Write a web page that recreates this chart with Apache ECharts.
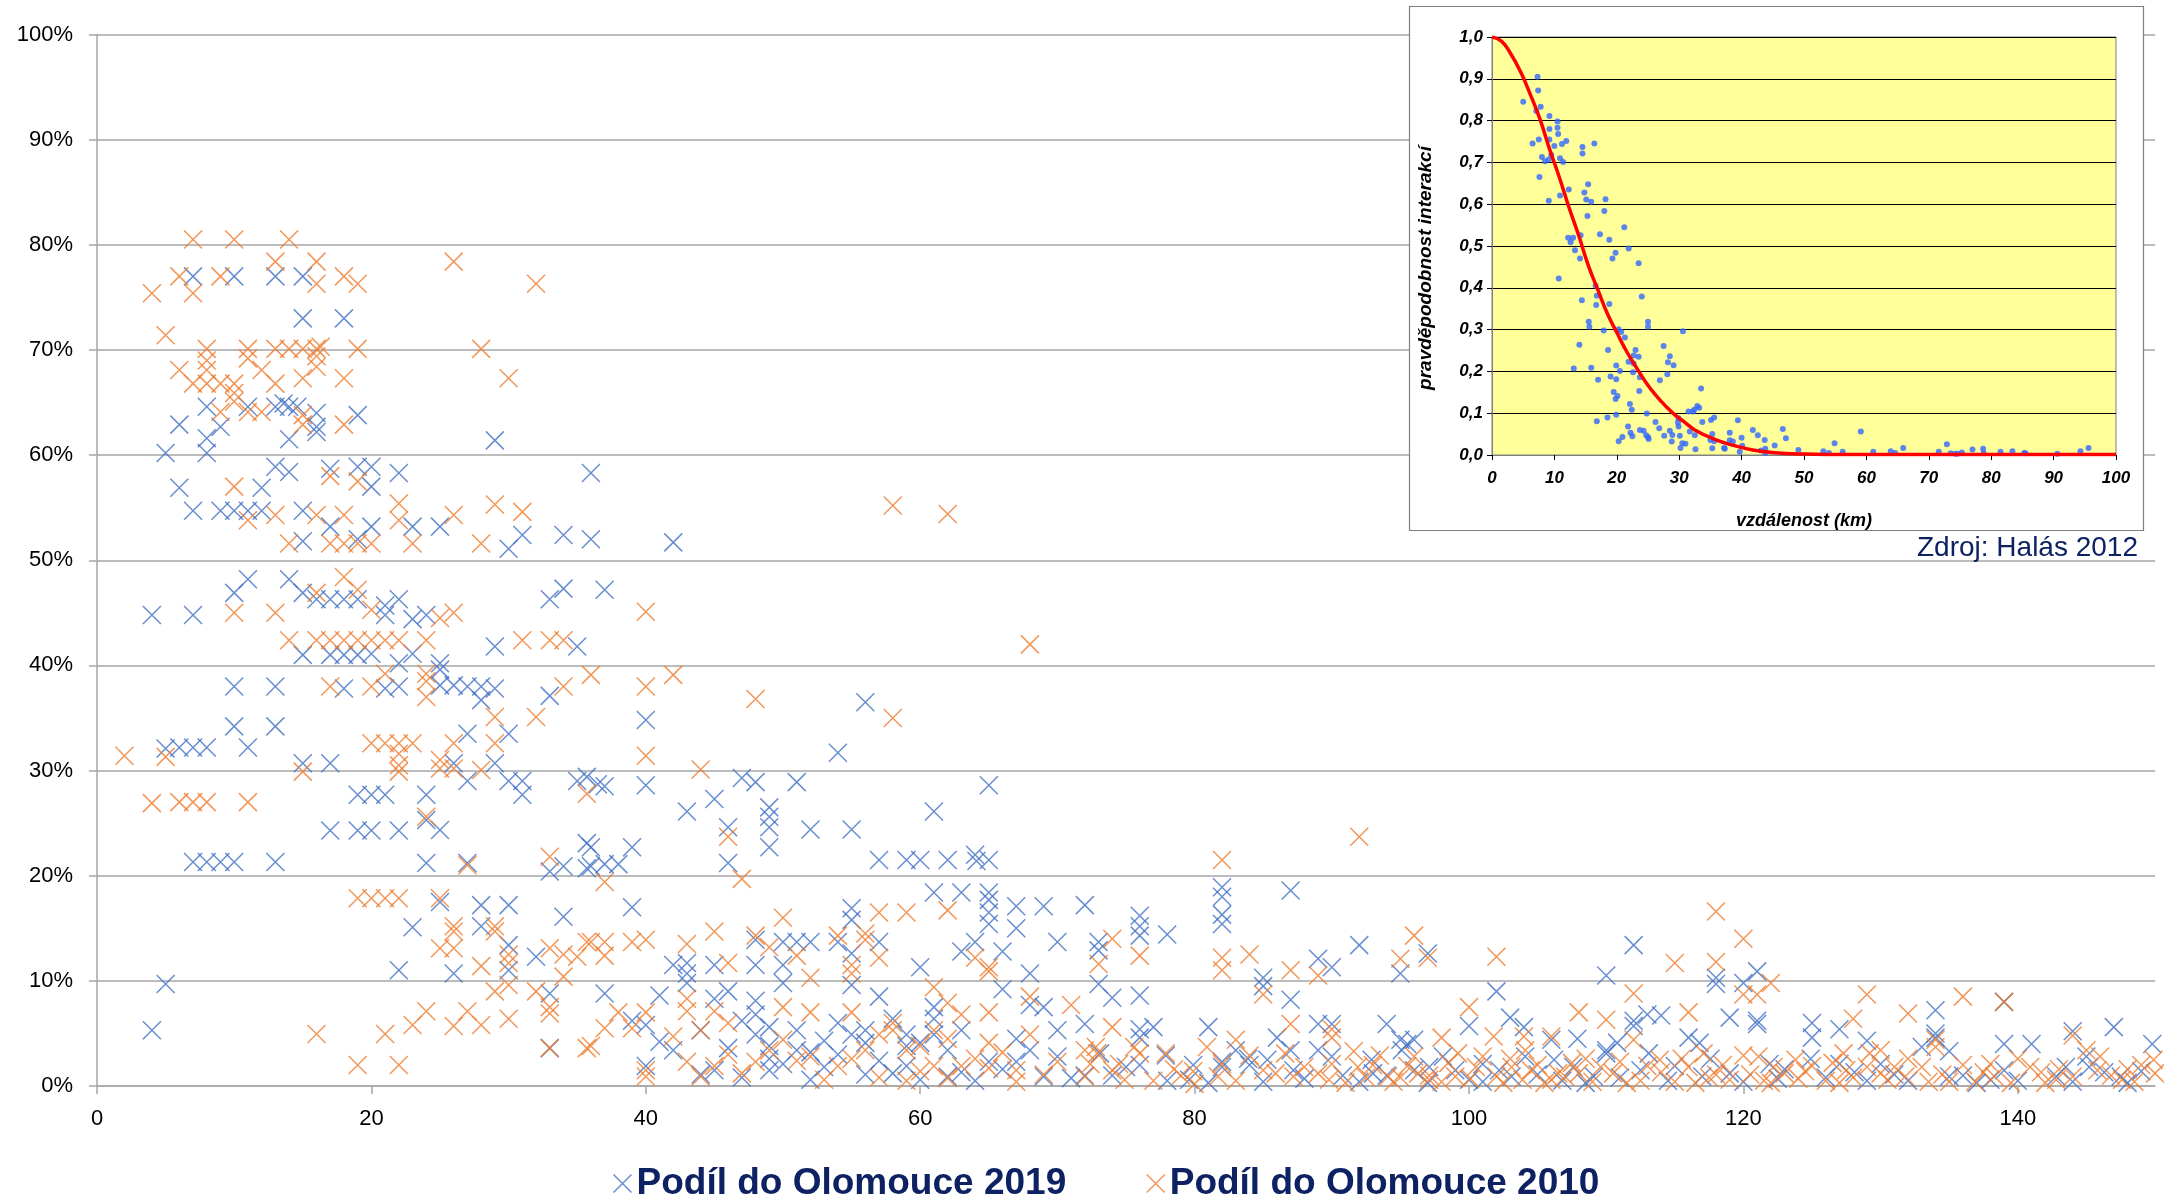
<!DOCTYPE html>
<html>
<head>
<meta charset="utf-8">
<script src="https://cdn.jsdelivr.net/npm/echarts@6/dist/echarts.min.js"></script>
<style>
  html, body { margin: 0; padding: 0; background: #fff; }
  #chart { width: 2164px; height: 1202px; }
</style>
</head>
<body>
<div id="chart"></div>
<script>
// podíl do Olomouce 2019 [vzdálenost km, %]
const share2019 = [
  [7,77],[10,77],[13,77],[15,77],[15,73],[18,73],
  [8,64.6],[11,64.6],[13,64.6],[13.6,64.9],[14,64.6],[14.6,64.6],[16,64],[19,63.8],
  [6,62.9],[9,62.7],[16,62.7],[16,62.2],[8,61.6],[14,61.5],[29,61.4],
  [5,60.2],[8,60.2],[13,58.9],[14,58.4],[17,58.7],[19,58.9],[20,58.9],[20,57],[22,58.3],[36,58.3],
  [6,56.9],[12,56.9],[7,54.7],[9,54.7],[10,54.7],[11,54.7],[12,54.7],[15,54.7],
  [17,53.2],[20,53.2],[23,53.2],[25,53.2],[31,52.4],[34,52.4],[36,52],[15,51.8],[19,52],[30,51.1],
  [11,48.2],[14,48.2],[10,46.9],[15,46.9],[16,46.3],[17,46.3],[18,46.3],[19,46.3],[21,45.7],[22,46.3],
  [21,44.8],[23,44.4],[24,44.8],[4,44.8],[7,44.8],[33,46.3],[34,47.3],[35,41.8],[29,41.8],
  [15,41],[17,41],[18,41],[19,41],[20,41.1],[22,40.2],[23,41.1],[25,40.2],[25,39.6],[25,38.1],
  [10,38],[13,38],[18,37.8],[21,37.8],[22,38],[26,38.1],[27,38],[28,38],[29,37.8],[28,36.7],[33,37.1],
  [10,34.2],[13,34.2],[11,32.2],[5,32.1],[6,32.2],[7,32.2],[8,32.2],
  [27,33.5],[30,33.5],[15,30.7],[17,30.7],[26,30.7],[27,29],[29,30.7],[30,29],[31,29],[31,27.7],[35,29],[35.7,29.4],
  [19,27.7],[20,27.7],[21,27.7],[24,27.7],[24,25.3],[25,24.35],[17,24.3],[19,24.3],[20,24.3],[22,24.3],
  [7,21.3],[8,21.3],[9,21.3],[10,21.3],[13,21.3],[24,21.2],[27,21.2],[33,20.4],[34,20.9],[35.7,23.1],[35.7,20.7],
  [25,17.5],[28,17.2],[30,17.2],[23,15.1],[28,15.2],[34,16.1],[30,13.4],[32,12.3],[30,11],[22,11],[26,10.7],
  [33,8.8],[5,9.7],[4,5.3],[33,3.6],
  [42,51.7],[37,47.2],[56,36.5],[40,34.8],[54,31.7],[36.5,28.7],[37,28.5],[40,28.6],[47,29.3],[48,28.9],[51,28.9],
  [65,28.6],[43,26.1],[45,27.3],[49,26.5],[49,25.6],[49,24.6],[49,22.7],[46,24.6],[52,24.4],[55,24.4],[61,26.1],
  [36,22.7],[39,22.7],[36,20.9],[37,21.1],[38,21.1],[46,21.2],[57,21.5],[59,21.5],[60,21.5],[62,21.5],[64,22],
  [64.1,21.4],[65,21.5],[61,18.4],[63,18.4],[65,18.4],[65,17.7],[65,16.5],[65,15.4],[67,17.1],[69,17.1],[67,15],
  [39,17],[55,16.9],[55,15.8],[48,13.9],[50,13.7],[51,13.7],[52,13.7],[54,13.7],[57,13.7],[55,12.6],[55,9.6],
  [64,13.7],[66,12.8],[63,12.8],[68,10.7],[70,13.7],[60,11.3],[66,9.2],[68,7.7],[69,7.5],
  [42,11.5],[43,11.7],[43,10.7],[45,11.5],[48,11.5],[50,11.5],[50,9.8],[43,9.8],[37,8.8],[41,8.6],[46,9],[45,8.3],
  [48,8.1],[48,6.8],[57,8.5],[39,6.2],[40,5.8],[42,3.4],[44,1.1],[40,1.9],[48,4.9],[49,5.6],[49,3.8],[49,2.6],
  [49,1.5],[51,5.3],[51,3.4],[52,3.2],[54,6],[54,3],[55,4.9],[56,5.3],[56,4.1],[56,1.1],[58,6.4],[59,4.9],[59,3.8],
  [59,1.9],[60,4.1],[61,7.5],[61,6.4],[61,4.9],[62,0.9],[62,3.4],[63,5.3],[65,2.3],[67,4.5],[67,2.3],[68,3.4],
  [70,5.3],[71,0.75],[45,1.5],[47,0.8],[53,1.8],[57,2.4],[58,1.2],[60,0.6],[63,1.3],[64,0.5],[66,1.6],[69,0.9],
  [70,2.8],[46,3.6],[41,4.2],[44,5.3],[47,6.2],[53,4.3],[50,2.1],[52,0.6],
  [82,18.9],[82,18],[82,16.3],[82,15.4],[87,18.6],[72,17.2],[76,16.2],[76,15.2],[76,14.3],[78,14.4],[73,13.7],
  [73,12.9],[73,9.7],[89,12.1],[90,11.3],[92,13.4],[97,12.6],[95,10.7],[85,10.3],[85,9.5],[87,8.2],[102,9],
  [110,10.5],[74,8.4],[76,8.6],[72,5.9],[76,5.4],[77,5.6],[76,4.6],[81,5.6],[89,5.9],[90,5.9],[94,5.9],[100,5.7],
  [103,6.5],[86,4.6],[95.5,4],[96,4.4],[95,4.4],
  [73.1,3.1],[72,1],[74,1],[75,1.8],[76,2],[77.9,2.9],[79.9,2],[79.6,0.6],[82,2.3],[82,1.8],[83,3.4],[83.9,2.6],
  [84,2],[85.3,2.5],[87,3.4],[87.2,1.5],[89,3.4],[90,2.8],[90.8,1],[92.9,2.5],[94,1],[95.1,3.4],[96,1.5],[97.1,1.8],
  [98.1,2.8],[99,1.5],[101,2.1],[102.2,1.5],[103.1,0.9],[104,5.6],[104.1,2.8],[106,4.4],[106.2,2.5],[107.9,4.5],
  [107.6,1.8],[109.1,0.9],[110,3.1],[78,0.5],[81,0.3],[85,0.4],[88,0.7],[92,0.4],[93,1.2],[97,0.3],[100,0.6],
  [101,0.4],[105,1.1],[106.8,0.5],[108.5,0.3],
  [112,13.4],[118,10.3],[118,9.7],[120,9.8],[121,10.9],[112,6.2],[112,5.7],[113,6.8],[114,6.7],[116,4.6],[119,6.5],
  [121,6.2],[121,5.9],[127,5.4],[125,6],[125,4.6],[134,7.2],[139,8],[134,4.6],[135,3.3],[129,4.3],[139,4],[141,4],
  [144,5.2],[147,5.6],[149.8,4],[134,5],[110.8,4.1],[110,3.4],[113.1,3.1],[116.8,4.1],[117.6,2.6],[121.9,2.1],
  [124.9,2.6],[127,2.1],[128.1,1.3],[130,2.1],[133,3.7],[135,0.9],[138,0.6],[139,1.5],[142.8,0.9],[145.2,1.8],
  [146.3,1.3],[145,2.8],[111,0.8],[112.5,1.5],[114.5,0.5],[115,1.9],[117,0.9],[119,1.2],[120,0.4],[122.5,0.7],
  [123,1.6],[126,0.8],[129,0.5],[131,1.1],[132,0.5],[136,1],[137,0.3],[140,0.5],[143.5,1.8],[144,0.4],[147.5,0.9],
  [148,0.3],[149,1.4]
]

// podíl do Olomouce 2010
const share2010 = [
  [7,80.5],[10,80.5],[14,80.5],[13,78.4],[16,78.4],[26,78.4],[6,77],[9,77],[18,77],[16,76.3],[19,76.3],[32,76.3],
  [4,75.4],[7,75.4],[5,71.4],[8,70.1],[11,70.1],[13,70.1],[14,70.1],[15,70.1],[16,70.1],[16.3,70.3],[19,70.1],
  [28,70.1],[8,69],[11,69.2],[16,69.4],[6,68.1],[8,68.1],[12,68.1],[16,68.4],[7,66.8],[8,66.8],[9,66.8],[10,66.8],
  [13,66.8],[15,67.3],[18,67.3],[30,67.3],[10,65.9],[9,64.1],[10,65.1],[11,64.1],[12,64.1],[15,63.8],[15,62.9],
  [18,62.9],[10,57],[11,53.8],[13,54.3],[16,54.3],[18,54.3],[22,55.4],[22,53.8],[26,54.3],[29,55.3],[31,54.6],
  [14,51.6],[17,51.6],[18,51.6],[19,51.6],[20,51.6],[23,51.6],[28,51.6],[19,57.5],[17,58],
  [26,45],[20,45.3],[25,44.5],[18,48.4],[19,47.2],[16,46.9],[10,45],[13,45],
  [14,42.4],[16,42.4],[17,42.4],[18,42.4],[19,42.4],[20,42.4],[21,42.4],[22,42.4],[24,42.4],[31,42.4],[33,42.4],[34,42.4],
  [21,39.2],[24,39.2],[24,38.5],[24,37],[17,38],[20,38],[34,38],[36,39.1],[29,35.1],[32,35.1],
  [2,31.4],[5,31.3],[20,32.6],[21,32.6],[22,32.6],[23,32.6],[26,32.6],[29,32.6],[22,31.6],[22,30.5],[22,29.9],
  [15,29.9],[25,31],[25,30.2],[26,30.2],[28,30.05],[35.7,27.8],[4,26.9],[6,27],[7,27],[8,27],[11,27],[24,25.6],
  [27,21],[33,21.8],[19,17.85],[20,17.85],[21,17.85],[22,17.85],[25,17.85],[26,15.2],[26,14.7],[29,15.2],[29,14.7],
  [25,13.1],[26,13.1],[30,12.5],[33,13.1],[34,12.5],[35,12.3],[35.7,13.7],[28,11.4],[30,11.7],[34,10.4],
  [29,9],[30,9.6],[32,9],[33,7.5],[33,6.9],[16,4.95],[21,4.95],[23,5.8],[24,7.1],[26,5.7],[27,7.1],[28,5.8],
  [30,6.4],[19,2],[22,2],[33,3.6],[35.7,3.6],
  [58,55.2],[62,54.4],[40,45.1],[68,42],[40,38],[42,39.1],[48,36.8],[58,35],[40,31.4],[44,30.1],[46,23.7],
  [37,19.4],[47,19.7],[62,16.7],[57,16.5],[59,16.5],[50,16],[45,14.7],[36,13.7],[37,13.7],[37,12.4],[39,13.7],
  [40,13.9],[43,13.5],[48,14.3],[49,13.2],[51,12.4],[54,14.3],[56,14.5],[56,13.9],[57,12.2],[55,11.5],[55,10.7],
  [64,12.2],[65,11.3],[65,10.9],[46,11.7],[52,10.3],[61,9.4],[62,7.9],[68,8.5],[71,7.7],[65,7],
  [43,8.3],[43,7.1],[45,7.1],[46,6],[50,7.5],[52,7],[55,7],[38,7],[39,5.5],[40,7],[37,5.5],[36,3.8],[42,4.7],
  [44,5.3],[46,3],[44,0.9],[43,2.3],[40,1.5],[40,0.9],[48,2.3],[49,3.4],[51,2.4],[52,2.8],[55,2.6],[56,3.4],
  [57,4.9],[58,6],[58,5.3],[59,3.4],[60,3.8],[61,5.3],[61,1.9],[62,0.75],[62,4.5],[63,1.9],[63,6.8],[65,4.1],
  [65,1.7],[67,1.5],[68,4.9],[69,1.1],[70,2.3],[47,1.2],[53,0.6],[54,1.9],[57,0.8],[59,0.5],[64,2.6],[66,3.2],
  [67,0.4],[60,1.4],[50,4.4],[45,1.9],
  [92,23.7],[82,21.5],[74,14],[76,12.4],[73,11.6],[82,12.2],[82,11],[84,12.5],[87,11],[89,10.5],[85,8.7],
  [96,14.3],[95,12.1],[97,12.2],[102,12.3],[108,7],[110,6.3],[100,7.5],[74,5.6],[87,5.9],[90,5.4],[90,4.6],
  [98,4.6],[83,4.4],[72,3.4],[72.8,3.7],[72.9,3.1],[72.4,2.1],[72,0.9],[74,1.5],[74.9,0.6],[74.5,2.1],[76,3.1],
  [75.6,3.7],[77.9,3.1],[79,1],[79.9,1.4],[80,0.2],[80.9,3.7],[82,2.1],[81.7,0.9],[84,2.9],[85,1.5],[85.9,1.2],
  [86.6,3.1],[87.2,0.9],[89,1.2],[90,2.1],[89.8,0.6],[91.6,3.3],[91.9,1.8],[93,2],[94.1,0.9],[94.5,0.4],[96,2.8],
  [96.3,1.2],[97.1,1],[97.1,0.6],[99,0.9],[99.2,3.1],[100.1,0.7],[101.8,4.7],[102,0.9],[103.1,1.8],[104,4.7],
  [104.1,3.4],[103.9,0.6],[106,4.7],[106,0.6],[106.5,1.2],[108,1.2],[107,0.9],[109.6,1.8],
  [77,0.5],[78.5,1.6],[83,0.5],[88,1.8],[92.5,0.8],[95.5,1.9],[98.5,2.2],[100.5,1.8],[101,2.8],[103,2.6],[105,2],
  [105.5,0.3],[108.5,2.6],[109,0.4],[93.5,2.9],[91,0.3],[95,0.8],[98,0.4],[102.5,0.3],[104.5,1.5],[107.5,2.2],
  [118,16.6],[120,14],[118,11.8],[115,11.7],[120,8.7],[121,8.7],[122,9.8],[112,8.8],[116,7],[129,8.7],[128,6.4],
  [132,6.9],[136,8.5],[139,8],[144,4.8],[112,4.4],[113.9,2.5],[117.1,3.1],[115.5,2.6],[120,2.9],[121.1,2.8],
  [122.2,1.8],[123.8,2.5],[127.3,3.1],[127.5,1.5],[129.2,3.1],[130,3.4],[131,1.8],[131.8,0.9],[133,1.8],[134,4.4],
  [134,3.7],[135,0.4],[136.9,0.4],[138.3,0.9],[140.9,1.8],[141.7,1.3],[142.8,0.6],[145.8,1.5],[146.8,1],[147.6,0.6],
  [150,1.2],[145,3.4],[146,2.8],[149,2],[149.9,2.5],[110.5,1.2],[111,2.3],[112.5,0.5],[114,1.3],[115,0.4],[116,1.8],
  [117.5,0.8],[118.5,2],[119,0.6],[120.5,1.1],[122,0.3],[123,1.2],[124,0.7],[125,1.9],[126,0.5],[126.5,2.2],
  [128,0.8],[129,1.8],[130.5,0.6],[132,2.6],[133.5,0.4],[136,2],[137.5,1.3],[139.5,0.3],[140,2.6],[143,1.6],
  [144,0.9],[148,1.6],[148.5,0.4],[111.5,0.3],[113,1.9],[116.5,0.3],[118,1.1],[121.5,0.5],[124.5,1.4],[127,0.3],
  [130,1.2],[134.5,1.1],[138,2.1],[142,0.3]
]

// vložený graf (Halás 2012): pravděpodobnost interakcí podle vzdálenosti
const insetDots = [
  [5,0.845],[7.3,0.905],[7.4,0.872],[7.8,0.833],[7.1,0.823],[6.5,0.745],[7.5,0.755],[7.6,0.665],[8,0.713],[8.5,0.703],
  [9.1,0.707],[9.1,0.608],[9.2,0.811],[9.2,0.78],[9.2,0.755],[9.5,0.718],[10,0.739],[10.5,0.798],[10.5,0.783],
  [10.6,0.768],[10.9,0.71],[11.4,0.701],[11.2,0.744],[11.9,0.751],[10.9,0.621],[10.7,0.422],[12.3,0.635],[12.2,0.52],
  [12.6,0.509],[13,0.52],[13.3,0.49],[14.1,0.47],[14.2,0.526],[14.5,0.737],[14.5,0.721],[14.8,0.628],[15.1,0.611],
  [15.4,0.648],[15.3,0.572],[15.9,0.606],[16.4,0.745],[17.3,0.528],[18.2,0.612],[18,0.584],[18.8,0.515],[19.3,0.47],
  [19.8,0.484],[16.6,0.405],[16.8,0.381],[14.4,0.37],[16.7,0.359],[18.8,0.361],[15.5,0.319],[15.6,0.307],[17.9,0.298],
  [20.3,0.301],[20.7,0.294],[21.3,0.281],[14,0.264],[13.1,0.207],[15.9,0.209],[17,0.18],[18.6,0.251],[19,0.188],
  [19.9,0.181],[19.9,0.214],[20.5,0.201],[19.5,0.151],[20.1,0.141],[19.8,0.134],[19.9,0.096],[18.5,0.09],[16.8,0.081],
  [20.3,0.033],[20.9,0.043],[21.2,0.545],[21.9,0.494],[23.5,0.459],[24,0.379],[25,0.319],[25,0.307],[21.9,0.223],
  [22.7,0.238],[23,0.251],[23.5,0.235],[22.7,0.219],[22.6,0.198],[23.7,0.186],[23.6,0.153],[22.1,0.122],[22.4,0.108],
  [21.8,0.068],[22.2,0.053],[22.5,0.045],[23.7,0.06],[24.3,0.058],[24.8,0.099],[24.7,0.047],[25.1,0.038],[25,0.043],
  [26.2,0.079],[26.8,0.064],[26.9,0.179],[27.5,0.261],[28.1,0.193],[28.2,0.222],[28.5,0.236],[29.1,0.215],[27.6,0.046],
  [28.5,0.058],[28.9,0.048],[28.8,0.032],[29.9,0.088],[29.8,0.078],[29.9,0.068],[30.1,0.046],[30.2,0.017],[30.5,0.028],
  [31,0.027],[30.6,0.296],[31.5,0.104],[32.2,0.104],[32.4,0.108],[32.9,0.117],[33.2,0.113],[33.5,0.159],[31.7,0.056],
  [32.5,0.047],[32.6,0.014],[33.7,0.079],[35.1,0.084],[35.6,0.09],[35.3,0.05],[35,0.036],[35.6,0.033],[35.3,0.016],
  [37.2,0.017],[37.3,0.015],[38.1,0.053],[38.1,0.035],[38.6,0.032],[39.4,0.083],[40,0.041],[40.1,0.022],[39.7,0.008],
  [41.8,0.06],[42.6,0.047],[43.7,0.036],[43.1,0.011],[43.8,0.015],[43.8,0.005],[45.3,0.023],[46.6,0.062],[47.1,0.04],
  [49.1,0.012],[53.1,0.009],[54,0.005],[54.9,0.028],[56.2,0.008],[59.1,0.056],[61.1,0.008],[63.9,0.009],[64.6,0.005],
  [65.9,0.017],[71.6,0.008],[72.9,0.026],[73.5,0.004],[74.2,0.003],[74.6,0.003],[75.3,0.006],[77,0.013],[78.7,0.015],
  [78.8,0.004],[81.5,0.008],[83.4,0.009],[85.3,0.005],[85.5,0.004],[90.6,0.003],[94.3,0.009],[95.6,0.017]
]

const insetCurve = [
  [0,1],[1.5,0.99],[3,0.96],[4.6,0.916],[6.1,0.864],[7.7,0.803],[9.2,0.733],[10.8,0.664],[12.3,0.594],
  [13.9,0.525],[15.4,0.455],[17,0.394],[18.5,0.338],[20.1,0.29],[21.6,0.247],[23.2,0.208],[24.7,0.173],
  [26.3,0.142],[27.9,0.116],[29.4,0.095],[31,0.077],[32.5,0.06],[35.6,0.038],[38.7,0.023],[41.8,0.012],
  [44.9,0.006],[48,0.003],[51.9,0.002],[55.8,0.001],[70,0.001],[85,0.001],[100,0.001]
]

const BLUE = '#4472C4'
const ORANGE = '#ED7D31'
const NAVY = '#0E2263'
const CROSS = 'path://M0,0L10,10M10,0L0,10'

const chart = echarts.init(document.getElementById('chart'))

const insetText = {
  color: '#000',
  fontFamily: 'Liberation Sans, Arial, sans-serif',
  fontWeight: 'bold',
  fontStyle: 'italic',
  fontSize: 17
}

const option = {
  animation: false,
  backgroundColor: '#fff',
  grid: [
    { left: 97, top: 34.5, right: 9, bottom: 116 },
    {
      left: 1492, top: 37, width: 624, height: 418, z: 4,
      show: true, backgroundColor: '#FFFF99', borderColor: '#808080', borderWidth: 1
    }
  ],
  legend: {
    left: 606,
    top: 1160,
    itemGap: 78,
    itemWidth: 18,
    itemHeight: 20,
    textStyle: {
      color: NAVY,
      fontFamily: 'Liberation Sans, Arial, sans-serif',
      fontWeight: 'bold',
      fontSize: 37
    },
    data: [
      { name: 'Podíl do Olomouce 2019', icon: CROSS, itemStyle: { color: 'none', borderColor: BLUE, borderWidth: 1.5 } },
      { name: 'Podíl do Olomouce 2010', icon: CROSS, itemStyle: { color: 'none', borderColor: ORANGE, borderWidth: 1.5 } }
    ]
  },
  xAxis: [
    {
      gridIndex: 0,
      type: 'value',
      min: 0,
      max: 150,
      interval: 20,
      axisLine: { lineStyle: { color: '#A6A6A6', width: 1.5 } },
      axisTick: { show: true, length: 8, lineStyle: { color: '#A6A6A6', width: 1.5 } },
      axisLabel: {
        showMaxLabel: false,
        margin: 22,
        color: '#000',
        fontFamily: 'Liberation Sans, Arial, sans-serif',
        fontSize: 22
      },
      splitLine: { show: false }
    },
    {
      gridIndex: 1,
      type: 'value',
      min: 0,
      max: 100,
      interval: 10,
      z: 5,
      name: 'vzdálenost (km)',
      nameLocation: 'middle',
      nameGap: 57,
      nameTextStyle: Object.assign({}, insetText, { fontSize: 18 }),
      axisLine: { lineStyle: { color: '#808080', width: 1 } },
      axisTick: { show: true, length: 5, lineStyle: { color: '#000' } },
      axisLabel: Object.assign({ margin: 15 }, insetText),
      splitLine: { show: false }
    }
  ],
  yAxis: [
    {
      gridIndex: 0,
      type: 'value',
      min: 0,
      max: 100,
      interval: 10,
      axisLine: { show: true, lineStyle: { color: '#A6A6A6', width: 1.5 } },
      axisTick: { show: true, length: 8, lineStyle: { color: '#A6A6A6', width: 1.5 } },
      axisLabel: {
        formatter: '{value}%',
        margin: 24,
        color: '#000',
        fontFamily: 'Liberation Sans, Arial, sans-serif',
        fontSize: 22
      },
      splitLine: { lineStyle: { color: '#A6A6A6', width: 1.5 } }
    },
    {
      gridIndex: 1,
      type: 'value',
      min: 0,
      max: 1,
      interval: 0.1,
      z: 5,
      axisLine: { show: true, lineStyle: { color: '#808080', width: 1 } },
      axisTick: { show: true, length: 5, lineStyle: { color: '#000' } },
      axisLabel: Object.assign({
        margin: 9,
        formatter: v => v.toFixed(1).replace('.', ',')
      }, insetText),
      splitLine: { lineStyle: { color: '#000', width: 1 } }
    }
  ],
  graphic: [
    {
      type: 'rect',
      z: 3,
      shape: { x: 1409.5, y: 6.5, width: 734, height: 524 },
      style: { fill: '#fff', stroke: '#7F7F7F', lineWidth: 1.2 }
    },
    {
      // y-axis title of the inset sits a bit below the grid centre in the original
      type: 'text',
      z: 8,
      x: 1426,
      y: 268,
      rotation: Math.PI / 2,
      style: {
        text: 'pravděpodobnost interakcí',
        fill: '#000',
        font: 'italic bold 19px Liberation Sans, Arial, sans-serif',
        textAlign: 'center',
        textVerticalAlign: 'middle'
      }
    },
    {
      type: 'text',
      z: 3,
      x: 2138,
      y: 548,
      style: {
        text: 'Zdroj: Halás 2012',
        fill: NAVY,
        font: '28px Liberation Sans, Arial, sans-serif',
        textAlign: 'right',
        textVerticalAlign: 'middle'
      }
    }
  ],
  series: [
    {
      name: 'Podíl do Olomouce 2019',
      type: 'scatter',
      xAxisIndex: 0,
      yAxisIndex: 0,
      data: share2019,
      symbol: CROSS,
      symbolSize: 18,
      itemStyle: { color: 'none', borderColor: BLUE, borderWidth: 1.5 }
    },
    {
      name: 'Podíl do Olomouce 2010',
      type: 'scatter',
      xAxisIndex: 0,
      yAxisIndex: 0,
      data: share2010,
      symbol: CROSS,
      symbolSize: 18,
      itemStyle: { color: 'none', borderColor: ORANGE, borderWidth: 1.5 }
    },
    {
      name: 'inset-dots',
      type: 'scatter',
      xAxisIndex: 1,
      yAxisIndex: 1,
      z: 6,
      data: insetDots,
      symbol: 'circle',
      symbolSize: 6,
      itemStyle: { color: '#3366FF' }
    },
    {
      name: 'inset-curve',
      type: 'line',
      xAxisIndex: 1,
      yAxisIndex: 1,
      z: 7,
      data: insetCurve,
      smooth: true,
      showSymbol: false,
      lineStyle: { color: '#FF0000', width: 3.5 }
    }
  ]
}

chart.setOption(option)
</script>
</body>
</html>
